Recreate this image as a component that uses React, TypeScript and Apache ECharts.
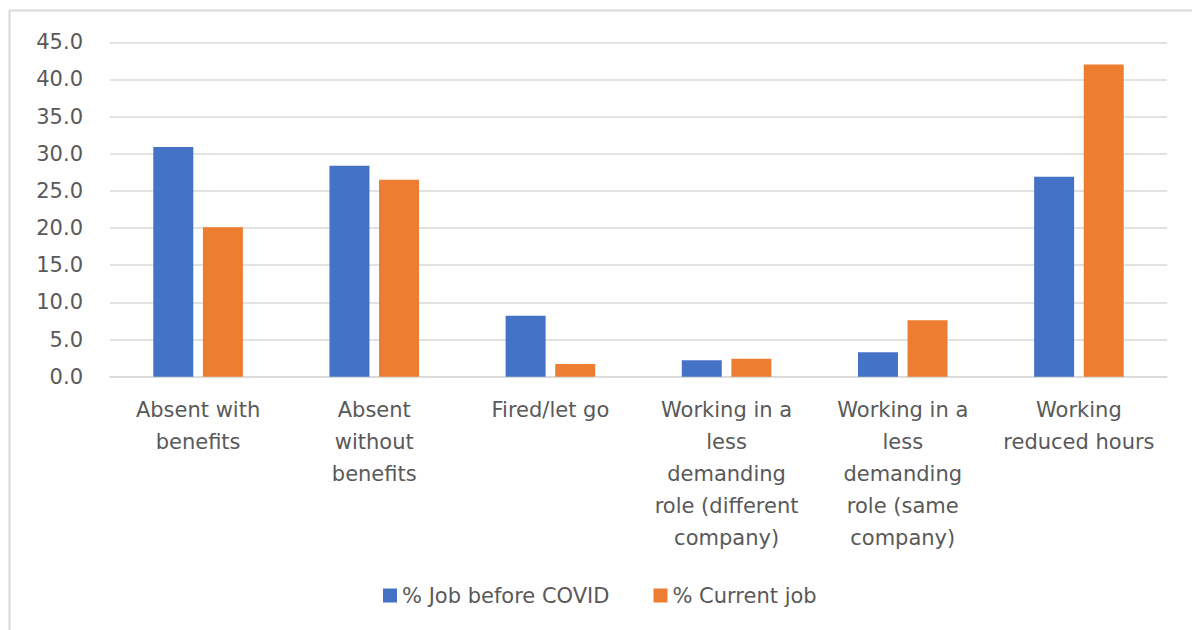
import React, { useEffect, useRef } from "react";
import * as echarts from "echarts";

const categories = [
  "Absent with\nbenefits",
  "Absent\nwithout\nbenefits",
  "Fired/let go",
  "Working in a\nless\ndemanding\nrole (different\ncompany)",
  "Working in a\nless\ndemanding\nrole (same\ncompany)",
  "Working\nreduced hours",
];
const jobBeforeCovid = [30.9, 28.4, 8.2, 2.2, 3.3, 26.9];
const currentJob = [20.1, 26.5, 1.7, 2.4, 7.6, 42.0];
const seriesNames = ["% Job before COVID", "% Current job"];

const FONT = "'DejaVu Sans', 'Open Sans', sans-serif";
const TEXT = "#595959";
const GRID = "#d9d9d9";

export default function App() {
  const ref = useRef<HTMLDivElement>(null);
  useEffect(() => {
    if (!ref.current) return;
    const chart = echarts.init(ref.current, undefined, { renderer: "svg" });
    chart.setOption({
      animation: false,
      backgroundColor: "#ffffff",
      textStyle: { fontFamily: FONT },
      graphic: [
        {
          type: "rect",
          shape: { x: 9.5, y: 10.5, width: 1300, height: 800 },
          style: { fill: "none", stroke: "#d9d9d9", lineWidth: 2 },
          silent: true,
        },
      ],
      grid: { left: 110, right: 25, top: 42.3, bottom: 253.3, containLabel: false },
      legend: {
        left: 378,
        top: 580,
        itemWidth: 14,
        itemHeight: 14,
        itemGap: 44,
        icon: "rect",
        textStyle: { color: TEXT, fontSize: 21, fontFamily: FONT },
        data: seriesNames,
      },
      xAxis: {
        type: "category",
        data: categories,
        axisLine: { lineStyle: { color: GRID, width: 1.5 } },
        axisTick: { show: false },
        axisLabel: {
          color: TEXT,
          fontSize: 21,
          lineHeight: 32,
          margin: 17,
          interval: 0,
          fontFamily: FONT,
        },
      },
      yAxis: {
        type: "value",
        min: 0,
        max: 45,
        interval: 5,
        axisLine: { show: false },
        axisTick: { show: false },
        splitLine: { lineStyle: { color: GRID, width: 1.5 } },
        axisLabel: {
          color: TEXT,
          fontSize: 21,
          margin: 27,
          fontFamily: FONT,
          formatter: (v: number) => v.toFixed(1),
        },
      },
      series: [
        {
          name: seriesNames[0],
          type: "bar",
          data: jobBeforeCovid,
          barWidth: 40,
          barGap: "24%",
          itemStyle: { color: "#4472C4" },
        },
        {
          name: seriesNames[1],
          type: "bar",
          data: currentJob,
          barWidth: 40,
          barGap: "24%",
          itemStyle: { color: "#ED7D31" },
        },
      ],
    });
    return () => chart.dispose();
  }, []);
  return (
    <div
      ref={ref}
      style={{ position: "fixed", left: 0, top: 0, width: 1192, height: 630 }}
    />
  );
}
